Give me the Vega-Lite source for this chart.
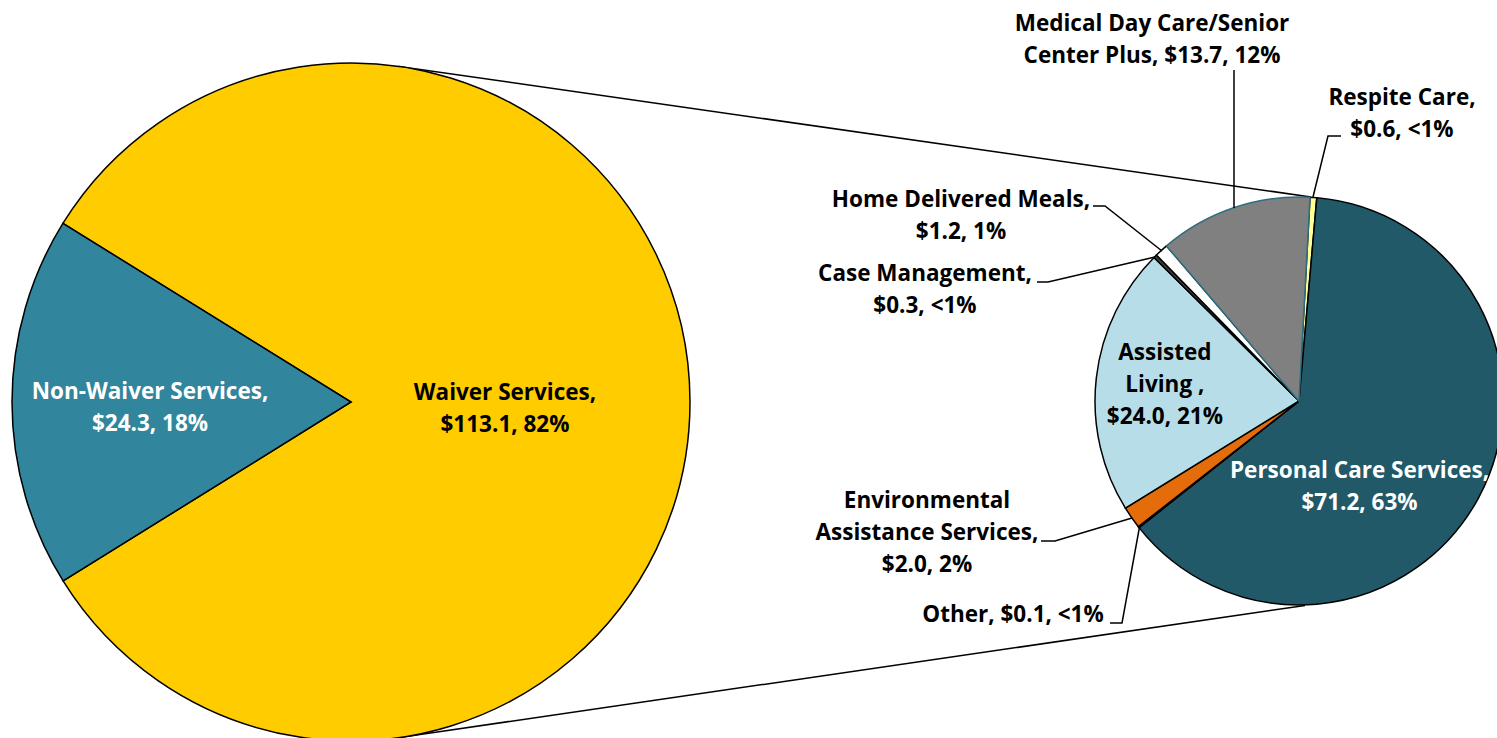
{
  "$schema": "https://vega.github.io/schema/vega-lite/v6.json",
  "width": 1497,
  "height": 738,
  "autosize": {"type": "none"},
  "padding": 0,
  "background": "white",
  "config": {
    "view": {"stroke": null},
    "text": {"font": "Open Sans", "fontWeight": "bold", "fontSize": 22.5, "lineHeight": 32, "lineBreak": "\n", "align": "center", "baseline": "middle"}
  },
  "datasets": {
    "primary": [
      {"name": "Waiver Services", "value": 113.1, "idx": 1, "label": "Waiver Services,\n$113.1, 82%"},
      {"name": "Non-Waiver Services", "value": 24.3, "idx": 2, "label": "Non-Waiver Services,\n$24.3, 18%"}
    ],
    "waiver": [
      {"name": "Respite Care", "value": 0.6, "idx": 1, "label": "Respite Care,\n$0.6, <1%"},
      {"name": "Personal Care Services", "value": 71.2, "idx": 2, "label": "Personal Care Services,\n$71.2, 63%"},
      {"name": "Other", "value": 0.1, "idx": 3, "label": "Other, $0.1, <1%"},
      {"name": "Environmental Assistance Services", "value": 2.0, "idx": 4, "label": "Environmental\nAssistance Services,\n$2.0, 2%"},
      {"name": "Assisted Living", "value": 24.0, "idx": 5, "label": "Assisted\nLiving ,\n$24.0, 21%"},
      {"name": "Case Management", "value": 0.3, "idx": 6, "label": "Case Management,\n$0.3, <1%"},
      {"name": "Home Delivered Meals", "value": 1.2, "idx": 7, "label": "Home Delivered Meals,\n$1.2, 1%"},
      {"name": "Medical Day Care/Senior Center Plus", "value": 13.7, "idx": 8, "label": "Medical Day Care/Senior\nCenter Plus, $13.7, 12%"}
    ],
    "connectors": [
      {"x": 39.9, "y": 6.64, "x2": 131.1, "y2": 19.7},
      {"x": 40.0, "y": 73.74, "x2": 130.5, "y2": 60.55}
    ],
    "leaders": [
      {"id": "Medical Day Care/Senior Center Plus", "pt": 1, "x": 123.4, "y": 7.0},
      {"id": "Medical Day Care/Senior Center Plus", "pt": 2, "x": 123.4, "y": 20.8},
      {"id": "Respite Care", "pt": 1, "x": 134.1, "y": 13.6},
      {"id": "Respite Care", "pt": 2, "x": 132.8, "y": 13.6},
      {"id": "Respite Care", "pt": 3, "x": 131.3, "y": 19.7},
      {"id": "Home Delivered Meals", "pt": 1, "x": 109.3, "y": 20.6},
      {"id": "Home Delivered Meals", "pt": 2, "x": 110.5, "y": 20.6},
      {"id": "Home Delivered Meals", "pt": 3, "x": 116.2, "y": 25.1},
      {"id": "Case Management", "pt": 1, "x": 103.7, "y": 28.2},
      {"id": "Case Management", "pt": 2, "x": 104.8, "y": 28.2},
      {"id": "Case Management", "pt": 3, "x": 115.5, "y": 25.7},
      {"id": "Environmental Assistance Services", "pt": 1, "x": 104.1, "y": 54.1},
      {"id": "Environmental Assistance Services", "pt": 2, "x": 105.5, "y": 54.1},
      {"id": "Environmental Assistance Services", "pt": 3, "x": 113.2, "y": 51.8},
      {"id": "Other", "pt": 1, "x": 111.0, "y": 62.3},
      {"id": "Other", "pt": 2, "x": 112.2, "y": 62.3},
      {"id": "Other", "pt": 3, "x": 113.95, "y": 52.7}
    ],
    "outsideLabels": [
      {"text": "Medical Day Care/Senior\nCenter Plus, $13.7, 12%", "x": 115.2, "y": 2.4},
      {"text": "Respite Care,\n$0.6, <1%", "x": 140.2, "y": 9.8},
      {"text": "Home Delivered Meals,\n$1.2, 1%", "x": 96.1, "y": 20.0},
      {"text": "Case Management,\n$0.3, <1%", "x": 92.5, "y": 27.4},
      {"text": "Environmental\nAssistance Services,\n$2.0, 2%", "x": 92.7, "y": 50.1},
      {"text": "Other, $0.1, <1%", "x": 101.3, "y": 61.5}
    ]
  },
  "layer": [
    {
      "data": {"name": "connectors"},
      "mark": {"type": "rule", "color": "black", "strokeWidth": 1.5},
      "encoding": {
        "x": {"field": "x", "type": "quantitative", "scale": {"domain": [0, 149.7], "nice": false}, "axis": null},
        "y": {"field": "y", "type": "quantitative", "scale": {"domain": [0, 73.8], "nice": false, "reverse": true}, "axis": null},
        "x2": {"field": "x2"},
        "y2": {"field": "y2"}
      }
    },
    {
      "data": {"name": "primary"},
      "mark": {"type": "arc", "outerRadius": 339, "stroke": "black", "strokeWidth": 1.5},
      "encoding": {
        "x": {"datum": 35.1, "type": "quantitative"},
        "y": {"datum": 40.2, "type": "quantitative"},
        "theta": {"field": "value", "type": "quantitative", "stack": true, "scale": {"range": [5.2674, 11.5506]}},
        "order": {"field": "idx", "type": "quantitative"},
        "color": {"field": "name", "type": "nominal", "scale": {"domain": ["Waiver Services", "Non-Waiver Services"], "range": ["#FFCC00", "#31859C"]}, "legend": null}
      }
    },
    {
      "data": {"name": "waiver"},
      "mark": {"type": "arc", "outerRadius": 204, "strokeWidth": 1.5},
      "encoding": {
        "x": {"datum": 129.9, "type": "quantitative"},
        "y": {"datum": 40.1, "type": "quantitative"},
        "theta": {"field": "value", "type": "quantitative", "stack": true, "scale": {"range": [0.0541, 6.3373]}},
        "order": {"field": "idx", "type": "quantitative"},
        "color": {"field": "name", "type": "nominal", "scale": {"domain": ["Respite Care", "Personal Care Services", "Other", "Environmental Assistance Services", "Assisted Living", "Case Management", "Home Delivered Meals", "Medical Day Care/Senior Center Plus"], "range": ["#FFFF99", "#215968", "#1F497D", "#E46C0A", "#B7DEE8", "#404040", "#FFFFFF", "#808080"]}, "legend": null},
        "stroke": {"field": "name", "type": "nominal", "scale": {"domain": ["Respite Care", "Personal Care Services", "Other", "Environmental Assistance Services", "Assisted Living", "Case Management", "Home Delivered Meals", "Medical Day Care/Senior Center Plus"], "range": ["#000000", "#000000", "#000000", "#000000", "#000000", "#000000", "#000000", "#2E6E80"]}, "legend": null}
      }
    },
    {
      "data": {"name": "leaders"},
      "mark": {"type": "line", "color": "black", "strokeWidth": 1.5},
      "encoding": {
        "x": {"field": "x", "type": "quantitative"},
        "y": {"field": "y", "type": "quantitative"},
        "detail": {"field": "id"},
        "order": {"field": "pt", "type": "quantitative"}
      }
    },
    {
      "data": {"name": "primary"},
      "mark": {"type": "text", "radius": 154, "dy": -9, "fill": "black"},
      "encoding": {
        "x": {"datum": 35.1, "type": "quantitative"},
        "y": {"datum": 40.2, "type": "quantitative"},
        "theta": {"field": "value", "type": "quantitative", "stack": true, "scale": {"range": [5.2674, 11.5506]}},
        "order": {"field": "idx", "type": "quantitative"},
        "detail": {"field": "name"},
        "text": {"condition": {"test": "datum.name === 'Waiver Services'", "field": "label"}, "value": ""}
      }
    },
    {
      "data": {"name": "primary"},
      "mark": {"type": "text", "radius": 201, "dy": -10, "fill": "white"},
      "encoding": {
        "x": {"datum": 35.1, "type": "quantitative"},
        "y": {"datum": 40.2, "type": "quantitative"},
        "theta": {"field": "value", "type": "quantitative", "stack": true, "scale": {"range": [5.2674, 11.5506]}},
        "order": {"field": "idx", "type": "quantitative"},
        "detail": {"field": "name"},
        "text": {"condition": {"test": "datum.name === 'Non-Waiver Services'", "field": "label"}, "value": ""}
      }
    },
    {
      "data": {"name": "waiver"},
      "mark": {"type": "text", "radius": 135, "dy": -33, "fill": "black"},
      "encoding": {
        "x": {"datum": 129.9, "type": "quantitative"},
        "y": {"datum": 40.1, "type": "quantitative"},
        "theta": {"field": "value", "type": "quantitative", "stack": true, "scale": {"range": [0.0541, 6.3373]}},
        "order": {"field": "idx", "type": "quantitative"},
        "detail": {"field": "name"},
        "text": {"condition": {"test": "datum.name === 'Assisted Living'", "field": "label"}, "value": ""}
      }
    },
    {
      "data": {"name": "waiver"},
      "mark": {"type": "text", "radius": 104, "dx": -31, "dy": 21, "fill": "white"},
      "encoding": {
        "x": {"datum": 129.9, "type": "quantitative"},
        "y": {"datum": 40.1, "type": "quantitative"},
        "theta": {"field": "value", "type": "quantitative", "stack": true, "scale": {"range": [0.0541, 6.3373]}},
        "order": {"field": "idx", "type": "quantitative"},
        "detail": {"field": "name"},
        "text": {"condition": {"test": "datum.name === 'Personal Care Services'", "field": "label"}, "value": ""}
      }
    },
    {
      "data": {"name": "outsideLabels"},
      "mark": {"type": "text", "fill": "black"},
      "encoding": {
        "x": {"field": "x", "type": "quantitative"},
        "y": {"field": "y", "type": "quantitative"},
        "text": {"field": "text"}
      }
    }
  ],
  "resolve": {"scale": {"theta": "independent", "color": "independent", "stroke": "independent"}}
}
